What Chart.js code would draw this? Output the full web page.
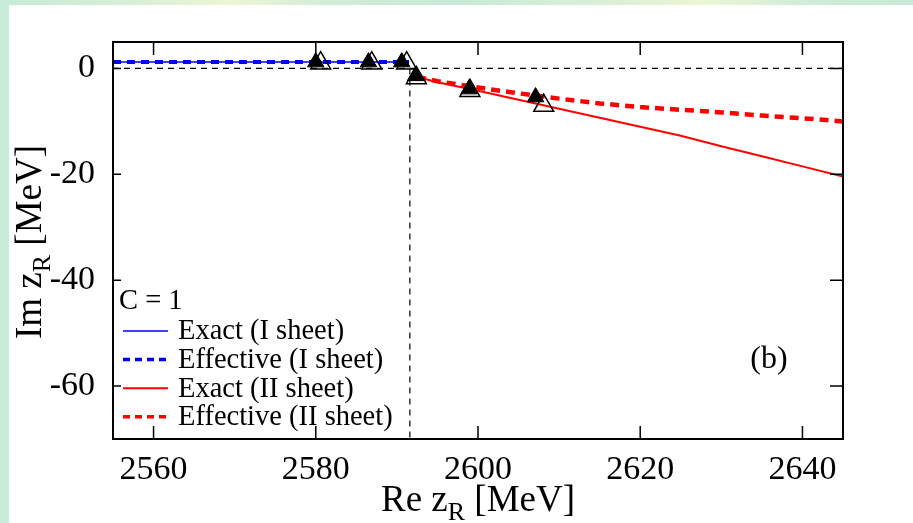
<!DOCTYPE html>
<html>
<head>
<meta charset="utf-8">
<script src="https://cdn.jsdelivr.net/npm/chart.js@4.4.1/dist/chart.umd.min.js"></script>
<style>
  html, body { margin: 0; padding: 0; background: #fff; }
  body { width: 913px; height: 523px; position: relative; overflow: hidden; }
  #topStrip { position: absolute; left: 0; top: 0; width: 913px; height: 5px;
    background: linear-gradient(90deg, #c8ead8 0%, #d6eed6 14%, #eef6d6 25%, #d2ecd7 36%, #c8ead8 50%, #dcf0d6 68%, #eef6d6 77%, #d0ecd8 88%, #c8ead8 100%); }
  #leftStrip { position: absolute; left: 0; top: 0; width: 9px; height: 523px; background: #c9ebd9; }
  #wrap { position: absolute; left: 0; top: 0; width: 913px; height: 523px; }
</style>
</head>
<body>
<div id="topStrip"></div>
<div id="leftStrip"></div>
<div id="wrap"><canvas id="zChart"></canvas></div>
<script>
const xTicks = [2560, 2580, 2600, 2620, 2640];
const yTicks = [-60, -40, -20, 0];
const xRange = [2555, 2645];
const yRange = [-70, 5];
const threshold = 2591.6;

// I sheet (blue)
const exactIRe = [2555, 2591.5];
const exactIIm = [1.2, 1.2];
const effIRe = [2555, 2591.5];
const effIIm = [1.2, 1.2];

// II sheet (red)
const exactIIRe = [2592.5, 2595, 2600, 2605, 2610, 2615, 2620, 2625, 2630, 2635, 2640, 2645];
const exactIIIm = [-1.6, -2.6, -4.2, -5.9, -7.6, -9.3, -11.0, -12.7, -14.7, -16.6, -18.5, -20.4];
const effIIRe = [2592.5, 2595, 2600, 2605, 2610, 2615, 2620, 2625, 2630, 2635, 2640, 2645];
const effIIIm = [-1.6, -2.4, -3.6, -4.7, -5.7, -6.6, -7.3, -7.8, -8.3, -8.9, -9.4, -10.0];

// pole markers
const filledRe = [2580, 2586.5, 2590.6, 2592.3, 2598.9, 2607.1];
const filledIm = [1.2, 1.2, 1.2, -1.4, -3.9, -5.4];
const openRe = [2580.6, 2586.9, 2591.2, 2592.4, 2599.0, 2608.1];
const openIm = [1.0, 1.0, 1.0, -1.8, -4.2, -7.0];

const serif = '"Liberation Serif", "Times New Roman", serif';
const pts = (xs, ys) => xs.map((v, i) => ({ x: v, y: ys[i] }));

const lineSet = (label, xs, ys, color, width, dash, order) => ({
  label, data: pts(xs, ys), showLine: true, borderColor: color, backgroundColor: color,
  borderWidth: width, borderDash: dash, pointRadius: 0, order, inLegend: true
});

const datasets = [
  { label: 'filled', data: pts(filledRe, filledIm), pointStyle: 'triangle', pointRadius: 9.5,
    backgroundColor: '#000', borderColor: '#000', borderWidth: 1, order: 0 },
  { label: 'open', data: pts(openRe, openIm), pointStyle: 'triangle', pointRadius: 11.5,
    backgroundColor: 'rgba(255,255,255,0)', borderColor: '#000', borderWidth: 1.5, order: 0 },
  lineSet('Exact (I sheet)', exactIRe, exactIIm, '#0000ff', 1.5, [], 2),
  lineSet('Effective (I sheet)', effIRe, effIIm, '#0000ff', 4, [8, 6], 2),
  lineSet('Exact (II sheet)', exactIIRe, exactIIIm, '#ff0000', 2, [], 2),
  lineSet('Effective (II sheet)', effIIRe, effIIIm, '#ff0000', 4.5, [9, 6], 2),
  { label: 'zero', data: pts(xRange, [0, 0]), showLine: true, borderColor: '#000', borderWidth: 1.2,
    borderDash: [6, 5], pointRadius: 0, order: 5 },
  { label: 'threshold', data: pts([threshold, threshold], [0, yRange[0]]), showLine: true,
    borderColor: '#000', borderWidth: 1.2, borderDash: [6, 5], pointRadius: 0, order: 5 }
];

function drawRich(ctx, parts, size) {
  // parts: [text, isSub]; drawn centred on the origin
  let w = 0;
  parts.forEach(([t, sub]) => {
    ctx.font = (sub ? size * 0.7 : size) + 'px ' + serif;
    w += ctx.measureText(t).width;
  });
  let x = -w / 2;
  parts.forEach(([t, sub]) => {
    ctx.font = (sub ? size * 0.7 : size) + 'px ' + serif;
    ctx.fillText(t, x, sub ? size * 0.25 : 0);
    x += ctx.measureText(t).width;
  });
}

const decorPlugin = {
  id: 'decor',
  afterDatasetsDraw(chart) {
    const { ctx, chartArea: a, scales: { x, y } } = chart;
    ctx.save();
    ctx.strokeStyle = '#000';
    ctx.lineWidth = 1.5;
    ctx.beginPath();
    xTicks.forEach(v => {
      const px = x.getPixelForValue(v);
      ctx.moveTo(px, a.top); ctx.lineTo(px, a.top + 13);
      ctx.moveTo(px, a.bottom); ctx.lineTo(px, a.bottom - 13);
    });
    yTicks.forEach(v => {
      const py = y.getPixelForValue(v);
      ctx.moveTo(a.left, py); ctx.lineTo(a.left + 8, py);
      ctx.moveTo(a.right, py); ctx.lineTo(a.right - 13, py);
    });
    ctx.stroke();
    ctx.lineWidth = 2;
    ctx.strokeRect(a.left, a.top, a.right - a.left, a.bottom - a.top);

    // axis titles
    ctx.fillStyle = '#000';
    ctx.textBaseline = 'alphabetic';
    ctx.textAlign = 'left';
    ctx.save();
    ctx.translate((a.left + a.right) / 2, 511);
    drawRich(ctx, [['Re z', false], ['R', true], [' [MeV]', false]], 37);
    ctx.restore();
    ctx.save();
    ctx.translate(41, 242);
    ctx.rotate(-Math.PI / 2);
    drawRich(ctx, [['Im z', false], ['R', true], [' [MeV]', false]], 37);
    ctx.restore();

    // legend
    ctx.font = '28.5px ' + serif;
    ctx.textBaseline = 'middle';
    ctx.fillText('C = 1', 119, 302);
    const items = chart.data.datasets.filter(d => d.inLegend);
    items.forEach((d, i) => {
      const cy = 331 + i * 28.6;
      ctx.save();
      ctx.strokeStyle = d.borderColor;
      ctx.lineWidth = Math.min(d.borderWidth, 3.5);
      ctx.setLineDash(d.borderDash.length ? [7, 5] : []);
      ctx.beginPath();
      ctx.moveTo(123, cy); ctx.lineTo(168, cy);
      ctx.stroke();
      ctx.restore();
      ctx.fillText(d.label, 178, cy + 1);
    });

    ctx.font = '32px ' + serif;
    ctx.textAlign = 'center';
    ctx.fillText('(b)', 769, 360);
    ctx.restore();
  }
};

new Chart(document.getElementById('zChart'), {
  type: 'scatter',
  data: { datasets },
  plugins: [decorPlugin],
  options: {
    responsive: true,
    maintainAspectRatio: false,
    animation: false,
    layout: { padding: { top: 42, right: 70, left: 0, bottom: 0 } },
    plugins: { legend: { display: false }, tooltip: { enabled: false } },
    scales: {
      x: {
        type: 'linear', min: xRange[0], max: xRange[1],
        grid: { display: false }, border: { display: false },
        afterBuildTicks: s => { s.ticks = xTicks.map(v => ({ value: v })); },
        afterFit: s => { s.height = 84; },
        ticks: { color: '#000', padding: 3, maxRotation: 0, callback: v => String(v),
          font: { family: serif, size: 34 } }
      },
      y: {
        type: 'linear', min: yRange[0], max: yRange[1],
        grid: { display: false }, border: { display: false },
        afterBuildTicks: s => { s.ticks = yTicks.map(v => ({ value: v })); },
        afterFit: s => { s.width = 113; },
        ticks: { color: '#000', padding: 10, callback: v => String(v),
          font: { family: serif, size: 34 } }
      }
    }
  }
});
</script>
</body>
</html>
